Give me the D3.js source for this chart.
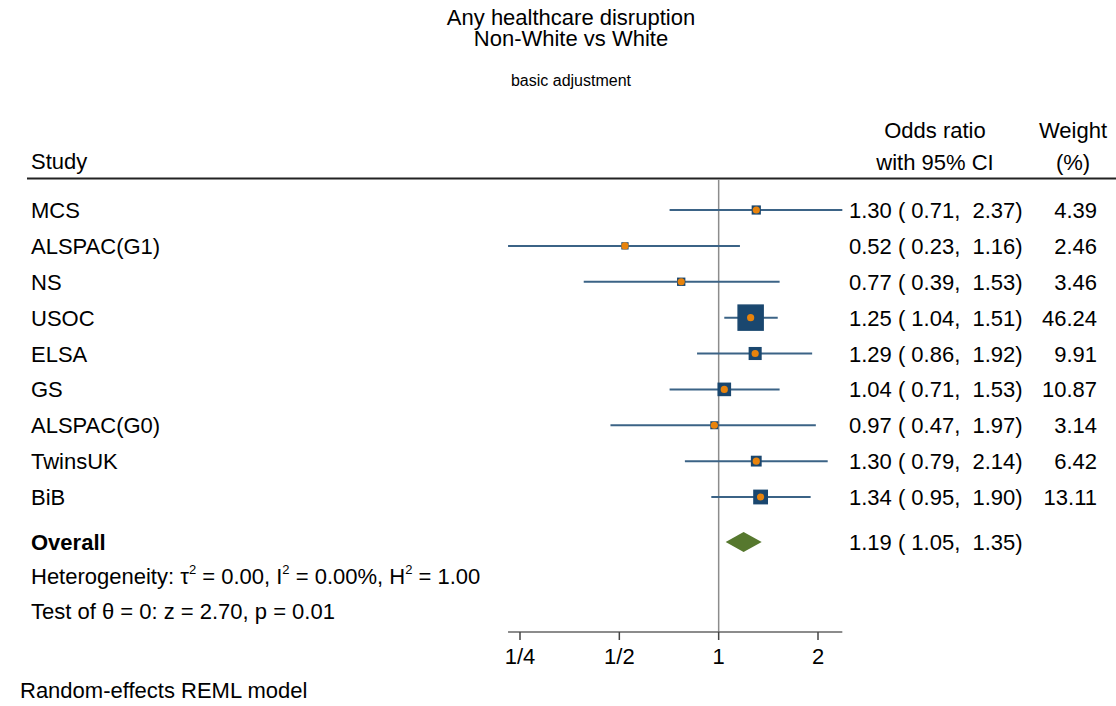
<!DOCTYPE html>
<html><head><meta charset="utf-8">
<script src="https://cdn.jsdelivr.net/npm/d3@7"></script>
<style>body{margin:0;background:#fff}svg{display:block;font-family:"Liberation Sans",Arial,sans-serif}</style>
</head><body><svg id="c" width="1116" height="706"></svg>
<script>
const studies = ["MCS","ALSPAC(G1)","NS","USOC","ELSA","GS","ALSPAC(G0)","TwinsUK","BiB"];
const or    = [1.30,0.52,0.77,1.25,1.29,1.04,0.97,1.30,1.34];
const lo    = [0.71,0.23,0.39,1.04,0.86,0.71,0.47,0.79,0.95];
const hi    = [2.37,1.16,1.53,1.51,1.92,1.53,1.97,2.14,1.90];
const weight= [4.39,2.46,3.46,46.24,9.91,10.87,3.14,6.42,13.11];
const overall = {or:1.19, lo:1.05, hi:1.35};
const tickVals = [0.25,0.5,1,2];
const tickLabels = ["1/4","1/2","1","2"];

const svg = d3.select("#c");
const x = d3.scaleLog().base(2).domain([0.25,2]).range([520,818]);
const rowY = d3.scalePoint().domain(studies).range([210,497]);
const yOverall = 542;
const side = d3.scaleSqrt().domain([0,46.24]).range([0,25]);
const fmt = d3.format(".2f");
const fmtCI = v => (v<10?" ":"")+fmt(v);

// titles
svg.append("text").attr("x",571).attr("y",25).attr("text-anchor","middle").attr("font-size",22).text("Any healthcare disruption");
svg.append("text").attr("x",571).attr("y",46).attr("text-anchor","middle").attr("font-size",22).text("Non-White vs White");
svg.append("text").attr("x",571).attr("y",86).attr("text-anchor","middle").attr("font-size",16).text("basic adjustment");

// headers
const fs = 22;
svg.append("text").attr("x",31).attr("y",169).attr("font-size",fs).text("Study");
svg.append("text").attr("x",935).attr("y",138).attr("text-anchor","middle").attr("font-size",fs).text("Odds ratio");
svg.append("text").attr("x",935).attr("y",170).attr("text-anchor","middle").attr("font-size",fs).text("with 95% CI");
svg.append("text").attr("x",1073).attr("y",138).attr("text-anchor","middle").attr("font-size",fs).text("Weight");
svg.append("text").attr("x",1073).attr("y",170).attr("text-anchor","middle").attr("font-size",fs).text("(%)");
svg.append("line").attr("x1",27).attr("x2",1116).attr("y1",178.5).attr("y2",178.5).attr("stroke","#222").attr("stroke-width",2);

// reference line at 1
svg.append("line").attr("x1",x(1)).attr("x2",x(1)).attr("y1",179).attr("y2",632).attr("stroke","#8c8c8c").attr("stroke-width",1.5);

const data = studies.map((s,i)=>({s,or:or[i],lo:lo[i],hi:hi[i],w:weight[i]}));
const g = svg.append("g");
g.selectAll("line.ci").data(data).join("line").attr("class","ci")
  .attr("x1",d=>x(d.lo)).attr("x2",d=>x(d.hi)).attr("y1",d=>rowY(d.s)).attr("y2",d=>rowY(d.s))
  .attr("stroke","#3b6386").attr("stroke-width",2);
g.selectAll("rect").data(data).join("rect")
  .attr("x",d=>x(d.or)-side(d.w)/2).attr("y",d=>rowY(d.s)-side(d.w)/2)
  .attr("width",d=>side(d.w)).attr("height",d=>side(d.w))
  .attr("fill","#1a476f").attr("stroke","#1a476f").attr("stroke-width",1.5);
g.selectAll("circle").data(data).join("circle")
  .attr("cx",d=>x(d.or)).attr("cy",d=>rowY(d.s)).attr("r",3.6).attr("fill","#e8830c");

const dm = 10;
svg.append("path").attr("d",`M${x(overall.lo)},${yOverall} L${x(overall.or)},${yOverall-dm} L${x(overall.hi)},${yOverall} L${x(overall.or)},${yOverall+dm}Z`).attr("fill","#56782e");

const off = 8;
g.selectAll("text.lab").data(data).join("text").attr("class","lab")
  .attr("x",31).attr("y",d=>rowY(d.s)+off).attr("font-size",fs).text(d=>d.s);
g.selectAll("text.ci").data(data).join("text").attr("class","ci")
  .attr("x",849).attr("y",d=>rowY(d.s)+off).attr("font-size",fs).style("white-space","pre")
  .text(d=>`${fmt(d.or)} (${fmtCI(d.lo)}, ${fmtCI(d.hi)})`);
g.selectAll("text.w").data(data).join("text").attr("class","w")
  .attr("x",1097).attr("y",d=>rowY(d.s)+off).attr("text-anchor","end").attr("font-size",fs).text(d=>fmt(d.w));

svg.append("text").attr("x",31).attr("y",yOverall+off).attr("font-size",fs).attr("font-weight","bold").text("Overall");
svg.append("text").attr("x",849).attr("y",yOverall+off).attr("font-size",fs).style("white-space","pre")
  .text(`${fmt(overall.or)} (${fmtCI(overall.lo)}, ${fmtCI(overall.hi)})`);

const het = svg.append("text").attr("x",31).attr("y",584).attr("font-size",fs);
het.append("tspan").text("Heterogeneity: τ");
het.append("tspan").attr("dy",-10).attr("font-size",13).text("2");
het.append("tspan").attr("dy",10).text(" = 0.00, I");
het.append("tspan").attr("dy",-10).attr("font-size",13).text("2");
het.append("tspan").attr("dy",10).text(" = 0.00%, H");
het.append("tspan").attr("dy",-10).attr("font-size",13).text("2");
het.append("tspan").attr("dy",10).text(" = 1.00");
svg.append("text").attr("x",31).attr("y",619).attr("font-size",fs).text("Test of θ = 0: z = 2.70, p = 0.01");

const axG = svg.append("g").attr("transform","translate(0,632)");
axG.append("line").attr("x1",x(0.23)).attr("x2",x(2.37)).attr("stroke","#666").attr("stroke-width",1.5);
axG.selectAll("line.t").data(tickVals).join("line").attr("class","t")
  .attr("x1",d=>x(d)).attr("x2",d=>x(d)).attr("y1",0).attr("y2",8).attr("stroke","#444").attr("stroke-width",1.5);
axG.selectAll("text").data(tickVals).join("text")
  .attr("x",d=>x(d)).attr("y",32).attr("text-anchor","middle").attr("font-size",fs).text((d,i)=>tickLabels[i]);

svg.append("text").attr("x",20).attr("y",698).attr("font-size",fs).text("Random-effects REML model");
</script></body></html>
